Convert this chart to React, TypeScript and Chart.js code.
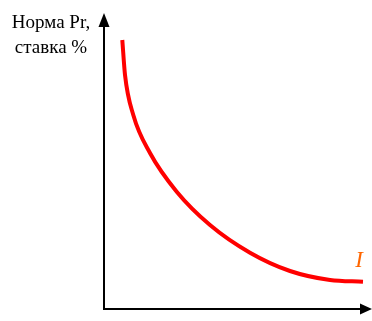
import React, { useEffect, useRef } from "react";
import { Chart, registerables } from "chart.js";

Chart.register(...registerables);

// Investment demand curve: rate of return vs. investment volume
const investment = [6.83, 7.84, 10.93, 17.16, 27.13, 39.55, 54.48, 69.4, 84.33, 96.64];
const rate = [90.88, 79.05, 65.54, 52.7, 39.63, 28.38, 19.02, 12.84, 9.8, 9.22];

const yTitleLines = ["Норма Pr,", "ставка %"];
const curveLabel = "I";

const axesPlugin = {
  id: "arrowAxes",
  afterDraw(chart: any) {
    const { ctx, chartArea } = chart;
    const { left, right, top, bottom } = chartArea;
    ctx.save();
    ctx.strokeStyle = "#000";
    ctx.fillStyle = "#000";
    ctx.lineWidth = 2;
    // vertical axis
    ctx.beginPath();
    ctx.moveTo(left, bottom);
    ctx.lineTo(left, top + 12);
    ctx.stroke();
    ctx.beginPath();
    ctx.moveTo(left, top);
    ctx.lineTo(left - 5.5, top + 14);
    ctx.lineTo(left + 5.5, top + 14);
    ctx.closePath();
    ctx.fill();
    // horizontal axis
    ctx.beginPath();
    ctx.moveTo(left - 1, bottom);
    ctx.lineTo(right - 12, bottom);
    ctx.stroke();
    ctx.beginPath();
    ctx.moveTo(right, bottom);
    ctx.lineTo(right - 12, bottom - 5.5);
    ctx.lineTo(right - 12, bottom + 5.5);
    ctx.closePath();
    ctx.fill();

    // axis title
    ctx.font = "19px 'Liberation Serif', 'Times New Roman', serif";
    ctx.textAlign = "center";
    ctx.textBaseline = "alphabetic";
    ctx.fillText(yTitleLines[0], 51, 28);
    ctx.fillText(yTitleLines[1], 51, 53);

    // curve label near the last point
    const xs = chart.scales.x;
    const ys = chart.scales.y;
    const lx = xs.getPixelForValue(investment[investment.length - 1]);
    const ly = ys.getPixelForValue(rate[rate.length - 1]);
    ctx.font = "italic 23px 'Liberation Serif', serif";
    ctx.fillStyle = "rgb(255,102,0)";
    ctx.fillText(curveLabel, lx - 4, ly - 15);
    ctx.restore();
  },
};

export default function App() {
  const ref = useRef<HTMLCanvasElement>(null);

  useEffect(() => {
    if (!ref.current) return;
    const chart = new Chart(ref.current, {
      type: "line",
      data: {
        datasets: [
          {
            data: investment.map((x, i) => ({ x, y: rate[i] })),
            borderColor: "#ff0000",
            borderWidth: 4,
            pointRadius: 0,
            cubicInterpolationMode: "monotone",
            fill: false,
          },
        ],
      },
      options: {
        responsive: false,
        animation: false,
        layout: { padding: { left: 104, right: 0, top: 13, bottom: 12 } },
        plugins: { legend: { display: false }, tooltip: { enabled: false }, title: { display: false } },
        scales: {
          x: { type: "linear", min: 0, max: 100, display: false },
          y: { type: "linear", min: 0, max: 100, display: false },
        },
      },
      plugins: [axesPlugin],
    });
    return () => chart.destroy();
  }, []);

  return (
    <div style={{ position: "absolute", left: 0, top: 0, width: 372, height: 321, background: "#fff" }}>
      <canvas ref={ref} width={372} height={321} style={{ display: "block" }} />
    </div>
  );
}
